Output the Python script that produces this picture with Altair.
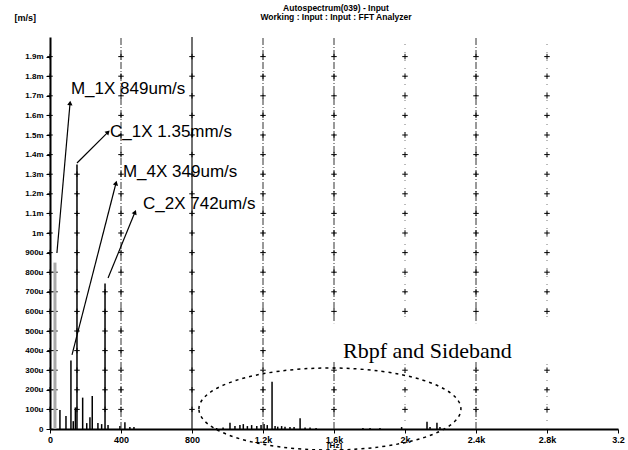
import math
import altair as alt
import pandas as pd

# ---------------- data ----------------
# spectral peaks: frequency [Hz], amplitude [um/s]
peak_freq = [56, 90, 118, 131, 143, 152, 184, 207, 225, 238, 270, 291, 310, 327, 394, 422, 450, 473,
             939, 975, 1014, 1042, 1070, 1089, 1112, 1136, 1165, 1189, 1206, 1224, 1251, 1268, 1283,
             1305, 1324, 1352, 1375, 1409, 1437, 1465, 1499, 1763, 1803, 1859, 1981, 2124, 2141, 2180, 2197]
peak_amp = [97, 66, 350, 40, 110, 1350, 160, 30, 60, 168, 30, 25, 742, 20, 15, 35, 10, 10,
            5, 8, 32, 15, 20, 25, 15, 20, 15, 20, 25, 20, 241, 15, 12,
            15, 12, 10, 10, 55, 8, 8, 5, 5, 5, 5, 10, 37, 10, 32, 10]

# gray peak (M_1X)
gray_freq = [28]
gray_amp = [849]

# grid columns and their styles
grid_solid = [800]
grid_dashdot = [400, 1200, 1600, 2400]
grid_dotted = [2000, 2800]

cross_cols = [0, 400, 800, 1200, 1600, 2000, 2400, 2800]
cross_rows = list(range(100, 2000, 100))
cursor_cols = [28, 152, 310]
cursor_tops = [800, 1300, 700]

# annotations: label, text x, text y, arrow start x, y, arrow end x, y
ann_label = ["M_1X 849um/s", "C_1X 1.35mm/s", "M_4X 349um/s", "C_2X 742um/s"]
ann_tx = [118, 338, 411, 524]
ann_ty = [1735, 1515, 1311, 1148]
ann_x1 = [39, 152, 124, 327]
ann_y1 = [898, 1357, 378, 770]
ann_x2 = [113, 327, 372, 479]
ann_y2 = [1663, 1515, 1255, 1107]

title_line1 = "Autospectrum(039) - Input"
title_line2 = "Working : Input : Input : FFT Analyzer"

W, H = 568, 392
XMAX, YMAX = 3200, 2000
FONT = "Liberation Sans"

xs = alt.Scale(domain=[0, XMAX], nice=False, zero=False)
ys = alt.Scale(domain=[0, YMAX], nice=False)

peaks = pd.DataFrame({"f": peak_freq, "a": peak_amp, "z": [0] * len(peak_freq)})
gray = pd.DataFrame({"f": gray_freq, "a": gray_amp, "z": [0]})

x_axis = alt.Axis(values=list(range(0, 3201, 400)),
                  labelExpr="datum.value == 3200 ? '3.2' : datum.value >= 1200 ? format(datum.value/1000, '.1~f') + 'k' : datum.value",
                  grid=False, domainColor="black", domainWidth=2, tickColor="black", tickSize=4,
                  labelFont=FONT, labelFontSize=9, labelFontWeight="bold", labelColor="black", labelPadding=2,
                  labelOverlap=False,
                  title="[Hz]", titleFont=FONT, titleFontSize=8, titleFontWeight="bold", titleColor="black",
                  titleY=16, titleBaseline="middle", labelFlush=False)
y_axis = alt.Axis(values=[0] + cross_rows, tickCount=20,
                  labelExpr="datum.value == 0 ? '0' : datum.value < 1000 ? datum.value + 'u' : format(datum.value/1000, '.1~f') + 'm'",
                  grid=False, domainColor="black", domainWidth=2, tickColor="black", tickSize=4,
                  labelFont=FONT, labelFontSize=8, labelFontWeight="bold", labelColor="black", labelPadding=3,
                  labelOverlap=False,
                  title="[m/s]", titleAngle=0, titleX=-36, titleY=-20, titleAlign="left", titleBaseline="middle",
                  titleFont=FONT, titleFontSize=9, titleFontWeight="bold", titleColor="black")

base_axes = alt.Chart(peaks).mark_rule(color="black", strokeWidth=1.5).encode(
    x=alt.X("f:Q", scale=xs, axis=x_axis),
    y=alt.Y("a:Q", scale=ys, axis=y_axis),
    y2="z:Q",
)

def vlines(vals, dash, color, width):
    df = pd.DataFrame({"f": vals, "lo": [0] * len(vals), "hi": [YMAX] * len(vals)})
    kw = dict(color=color, strokeWidth=width)
    if dash:
        kw["strokeDash"] = dash
    return alt.Chart(df).mark_rule(**kw).encode(
        x=alt.X("f:Q", scale=xs), y=alt.Y("lo:Q", scale=ys), y2="hi:Q")

g1 = vlines(grid_solid, None, "#111", 1.2)
g2 = vlines(grid_dashdot, [7, 2, 1, 2], "#333", 1)
g3 = vlines(grid_dotted, [1, 7], "#777", 1)

cross_rows_df = []
for c in cross_cols:
    for r in cross_rows:
        cross_rows_df.append({"f": c, "a": r})
for c, t in zip(cursor_cols, cursor_tops):
    for r in range(100, t + 1, 100):
        cross_rows_df.append({"f": c, "a": r})
crosses = alt.Chart(pd.DataFrame(cross_rows_df)).mark_point(
    shape="M -1 0 L 1 0 M 0 -1 L 0 1", size=30, filled=False, color="black", strokeWidth=1, opacity=1
).encode(x=alt.X("f:Q", scale=xs), y=alt.Y("a:Q", scale=ys))

gray_layer = alt.Chart(gray).mark_rule(color="#aaaaaa", strokeWidth=3).encode(
    x=alt.X("f:Q", scale=xs), y=alt.Y("a:Q", scale=ys), y2="z:Q")

# white-out box behind the big label
box = alt.Chart(pd.DataFrame({"x": [1480], "x2": [3150], "y": [350], "y2": [540]})).mark_rect(
    color="white").encode(x=alt.X("x:Q", scale=xs), x2="x2:Q", y=alt.Y("y:Q", scale=ys), y2="y2:Q")

ann = pd.DataFrame({"label": ann_label, "tx": ann_tx, "ty": ann_ty,
                    "x1": ann_x1, "y1": ann_y1, "x2": ann_x2, "y2": ann_y2})
ann["ang"] = [math.degrees(math.atan2((b - a) * W / XMAX, (d - c) * H / YMAX))
              for a, b, c, d in zip(ann_x1, ann_x2, ann_y1, ann_y2)]

arrows = alt.Chart(ann).mark_rule(color="black", strokeWidth=1.2).encode(
    x=alt.X("x1:Q", scale=xs), y=alt.Y("y1:Q", scale=ys), x2="x2:Q", y2="y2:Q")
heads = alt.Chart(ann).mark_point(shape="triangle-up", filled=True, size=28, color="black", opacity=1).encode(
    x=alt.X("x2:Q", scale=xs), y=alt.Y("y2:Q", scale=ys), angle=alt.Angle("ang:Q", scale=None))
labels = alt.Chart(ann).mark_text(align="left", baseline="middle", font=FONT, fontSize=17, color="black").encode(
    x=alt.X("tx:Q", scale=xs), y=alt.Y("ty:Q", scale=ys), text="label:N")

big = alt.Chart(pd.DataFrame({"x": [1651], "y": [362], "t": ["Rbpf and Sideband"]})).mark_text(
    align="left", baseline="alphabetic", font="Liberation Serif", fontSize=22, color="black").encode(
    x=alt.X("x:Q", scale=xs), y=alt.Y("y:Q", scale=ys), text="t:N")

ellipse = alt.Chart(pd.DataFrame({"x": [1577], "y": [102]})).mark_point(
    shape="M -1 0 A 1 0.313 0 1 1 1 0 A 1 0.313 0 1 1 -1 0 Z", size=262 * 262, filled=False,
    color="black", strokeWidth=1.5, strokeDash=[3, 4], opacity=1).encode(
    x=alt.X("x:Q", scale=xs), y=alt.Y("y:Q", scale=ys))

def title_text(txt, ypix):
    return alt.Chart(pd.DataFrame({"t": [txt]})).mark_text(
        align="center", baseline="middle", font=FONT, fontSize=8.5, fontWeight="bold", color="black").encode(
        x=alt.value(W / 2 + 2), y=alt.value(ypix), text="t:N")

t1 = title_text(title_line1, -29)
t2 = title_text(title_line2, -20)

chart = alt.layer(base_axes, g3, g2, g1, crosses, box, gray_layer, arrows, heads, labels, big, ellipse,
                  t1, t2).properties(
    width=W, height=H,
    autosize=alt.AutoSizeParams(type="none"),
    padding={"left": 50, "top": 37, "right": 10, "bottom": 21},
    background="white",
).configure_view(stroke=None).configure_axis(labelOverlap=False)

chart.save("out.html", embed_options={"renderer": "svg", "actions": False})
